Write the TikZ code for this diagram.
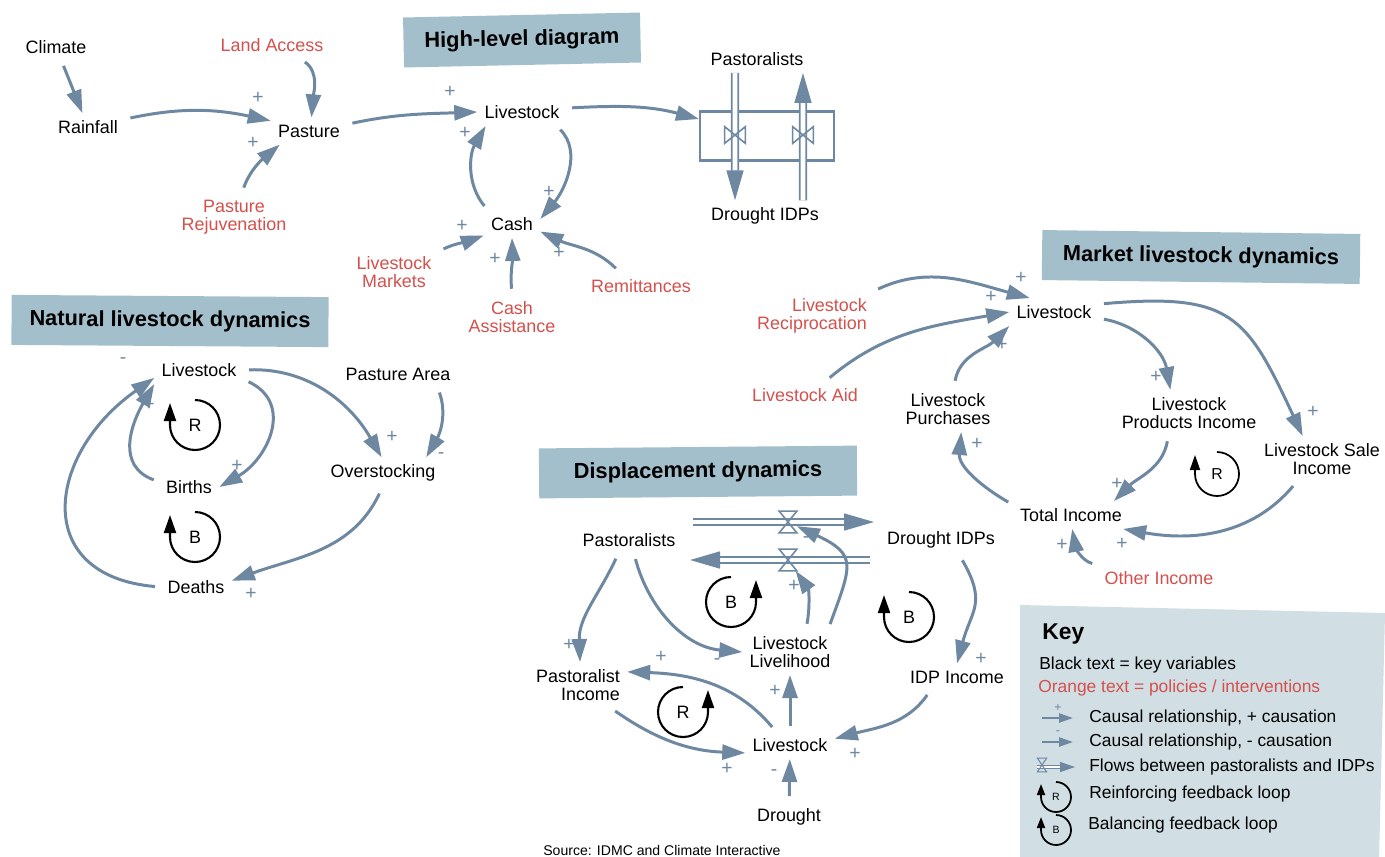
\documentclass[tikz,border=0pt]{standalone}
\usepackage{fontspec}
\setmainfont{Liberation Sans}
\usetikzlibrary{arrows.meta}
\definecolor{steel}{HTML}{6E88A1}
\definecolor{polred}{HTML}{D4504C}
\definecolor{titlefill}{HTML}{A3BFCB}
\definecolor{keyfill}{HTML}{D1DEE4}
\begin{document}
\begin{tikzpicture}[x=0.02cm, y=0.02cm,
    var/.style={font=\fontsize{10.2}{10.3}\selectfont, align=center, inner sep=4pt},
    pol/.style={var, text=polred},
    cl/.style={draw=steel, line width=1.7pt, shorten <=3pt, -{Triangle[length=0.46cm, width=0.3cm]}},
    sgn/.style={text=steel, font=\fontsize{11}{11}\selectfont, inner sep=0pt},
    title/.style={fill=titlefill, font=\bfseries\fontsize{12.4}{14}\selectfont, minimum height=1cm, inner sep=0pt},
    pipe/.style={draw=steel, line width=0.9pt, double=white, double distance=2.8pt},
    flowtip/.style={-{Triangle[length=0.6cm, width=0.34cm]}},
    hvalve/.style={inner sep=0pt, minimum width=0.4cm, minimum height=0.32cm},
    dvalve/.style={inner sep=0pt, minimum width=0.34cm, minimum height=0.42cm},
    valveline/.style={draw=steel, line width=0.9pt},
    fb/.style={draw=black, line width=1.2pt, -{Triangle[length=0.36cm, width=0.24cm]}},
    lbl/.style={font=\fontsize{10.2}{12}\selectfont, inner sep=0pt},
    keytxt/.style={font=\fontsize{9.9}{12}\selectfont, anchor=west, inner sep=0pt}
  ]
  \useasboundingbox (0,0) rectangle (1385,-856);
  \fill[white] (0,0) rectangle (1385,-856);

  % high-level diagram
  \node[title, rotate=1.2, minimum width=4.74cm] (htitle) at (522,-40) {High-level diagram};
  \node[var] (climate) at (56,-47) {Climate};
  \node[var] (rain) at (88,-127) {Rainfall};
  \node[pol] (land) at (272,-45) {Land Access};
  \node[var] (pasture) at (309,-131) {Pasture};
  \node[pol] (rejuv) at (234,-217) {Pasture\\Rejuvenation};
  \node[var] (hlive) at (522,-112) {Livestock};
  \node[var] (cash) at (512,-224) {Cash};
  \node[pol] (mkts) at (394,-272) {Livestock\\Markets};
  \node[pol] (assist) at (512,-317) {Cash\\Assistance};
  \node[pol] (remit) at (641,-286) {Remittances};
  \node[var] (hpast) at (757,-59) {Pastoralists};
  \node[var] (hidp) at (765,-216) {Drought IDPs};
  \node[draw=steel, line width=1.2pt, minimum width=2.68cm, minimum height=0.98cm, inner sep=0pt] (flowbox) at (767,-136) {};

  \draw[cl] (climate) -- (rain);
  \draw[cl] (rain.12) to[out=12, in=168] (pasture.165) node[sgn] at (258,-98) {+};
  \draw[cl] (land.-26) to[out=-35, in=85] (pasture.80);
  \draw[cl] (rejuv.72) to[out=70, in=220] (pasture.205) node[sgn] at (253,-143) {+};
  \draw[cl] (pasture.10) to[out=12, in=182] (hlive.west) node[sgn] at (450,-92) {+};
  \draw[cl] (hlive.5) to[out=3, in=165] (flowbox.166);
  \draw[cl] (cash.150) to[out=130, in=240] (hlive.201) node[sgn] at (465,-133) {+};
  \draw[cl] (hlive.-22) to[out=-45, in=50] (cash.10) node[sgn] at (549,-192) {+};
  \draw[cl] (mkts.25) to[out=25, in=200] (cash.202) node[sgn] at (462,-226) {+};
  \draw[cl] (assist.90) to[out=95, in=-88] (cash.south) node[sgn] at (495,-259) {+};
  \draw[cl] (remit.147) to[out=135, in=-25] (cash.-15) node[sgn] at (559,-253) {+};

  \draw[pipe, flowtip] ([xshift=-0.44cm]hpast.south) -- ([xshift=-0.6cm]hidp.north);
  \draw[pipe, flowtip] ([xshift=0.76cm]hidp.north) -- ([xshift=0.92cm]hpast.south);
  \node[hvalve] (hv1) at (735,-135) {};
  \node[hvalve] (hv2) at (803,-135) {};
  \draw[valveline] (hv1.north west) -- (hv1.south east) -- (hv1.north east) -- (hv1.south west) -- cycle;
  \draw[valveline] (hv2.north west) -- (hv2.south east) -- (hv2.north east) -- (hv2.south west) -- cycle;

  % natural livestock dynamics
  \node[title, rotate=-0.4, minimum width=6.34cm] (ntitle) at (170,-321) {Natural livestock dynamics};
  \node[var] (nlive) at (199,-370) {Livestock};
  \node[var] (parea) at (398,-374) {Pasture Area};
  \node[var] (births) at (189,-487) {Births};
  \node[var] (over) at (383,-473) {Overstocking};
  \node[var] (deaths) at (196,-587) {Deaths};

  \draw[cl] (deaths.west) to[out=175, in=215, looseness=1.6] (nlive.190) node[sgn] at (123,-361) {-};
  \draw[cl] (births.170) to[out=160, in=240, looseness=1.2] (nlive.south west) node[sgn] at (149,-405) {+};
  \draw[cl] (nlive.-12) to[out=-25, in=30, looseness=1.3] (births.east) node[sgn] at (237,-466) {+};
  \draw[cl] (nlive.east) to[out=2, in=120] (over.95) node[sgn] at (392,-437) {+};
  \draw[cl] (parea.-19) to[out=-70, in=60] (over.20) node[sgn] at (441,-456) {-};
  \draw[cl] (over.-95) to[out=-115, in=20] (deaths.10) node[sgn] at (251,-594) {+};

  \node[lbl] (nr) at (195,-425) {R};
  \draw[fb] (195,-400) arc[start angle=90, end angle=-180, radius=25] -- ++(0,22);
  \node[lbl] (nb) at (195,-537) {B};
  \draw[fb] (195,-512) arc[start angle=90, end angle=-180, radius=25] -- ++(0,22);

  % market livestock dynamics
  \node[title, rotate=-0.7, minimum width=6.36cm] (mtitle) at (1201,-257) {Market livestock dynamics};
  \node[var] (mlive) at (1054,-312) {Livestock};
  \node[pol, align=right] (recip) at (812,-316) {Livestock\\Reciprocation};
  \node[pol] (aid) at (805,-395) {Livestock Aid};
  \node[var] (purch) at (948,-409) {Livestock\\Purchases};
  \node[var] (prod) at (1189,-413) {Livestock\\Products Income};
  \node[var] (sale) at (1322,-459) {Livestock Sale\\Income};
  \node[var] (total) at (1071,-515) {Total Income};
  \node[pol] (other) at (1159,-578) {Other Income};

  \draw[cl] (recip.22) to[out=25, in=165] (mlive.150) node[sgn] at (1021,-278) {+};
  \draw[cl] (aid.34) to[out=40, in=190] (mlive.west) node[sgn] at (991,-297) {+};
  \draw[cl] (purch.75) to[out=80, in=225] (mlive.south west) node[sgn] at (1002,-345) {+};
  \draw[cl] (mlive.-8) to[out=-10, in=100] (prod.129) node[sgn] at (1156,-377) {+};
  \draw[cl] (mlive.10) to[out=5, in=115, looseness=1.4] (sale.130) node[sgn] at (1313,-412) {+};
  \draw[cl] (prod.228) to[out=-100, in=45] (total.18) node[sgn] at (1117,-484) {+};
  \draw[cl] (sale.222) to[out=-130, in=-10] (total.-15) node[sgn] at (1122,-544) {+};
  \draw[cl] (total.170) to[out=150, in=-95] (purch.-60) node[sgn] at (977,-444) {+};
  \draw[cl] (other.168) to[out=165, in=-80] (total.-85) node[sgn] at (1062,-545) {+};

  \node[lbl, font=\fontsize{9}{10}\selectfont] (mr) at (1217,-474) {R};
  \draw[fb, line width=1pt, -{Triangle[length=0.3cm, width=0.2cm]}] (1217,-452) arc[start angle=90, end angle=-180, radius=22] -- ++(0,19);

  % displacement dynamics
  \node[title, rotate=0.5, minimum width=6.36cm] (dtitle) at (698,-472) {Displacement dynamics};
  \node[var] (dpast) at (629,-540) {Pastoralists};
  \node[var] (didp) at (941,-540) {Drought IDPs};
  \node[var] (lvh) at (790,-652) {Livestock\\Livelihood};
  \node[var, align=right] (pinc) at (578,-685) {Pastoralist\\Income};
  \node[var] (iinc) at (957,-677) {IDP Income};
  \node[var] (dlive) at (790,-745) {Livestock};
  \node[var] (drought) at (789,-817) {Drought};

  \coordinate (tp0) at (693,-522);
  \coordinate (tp1) at (874,-522);
  \coordinate (bp0) at (870,-560);
  \coordinate (bp1) at (690,-560);
  \draw[pipe, flowtip] (tp0) -- (tp1);
  \draw[pipe, flowtip] (bp0) -- (bp1);
  \node[dvalve] (tv) at (788,-522) {};
  \node[dvalve] (bv) at (788,-560) {};
  \draw[valveline] (tv.north west) -- (tv.north east) -- (tv.south west) -- (tv.south east) -- cycle;
  \draw[valveline] (bv.north west) -- (bv.north east) -- (bv.south west) -- (bv.south east) -- cycle;

  \draw[cl] (dpast.-128) to[out=-115, in=92] (pinc.85) node[sgn] at (569,-645) {+};
  \draw[cl] (dpast.-70) to[out=-75, in=175] (lvh.west) node[sgn] at (717,-662) {-};
  \draw[cl] (lvh.31) to[out=70, in=-25, looseness=1.6] (tv) node[sgn] at (806,-540) {-};
  \draw[cl] (lvh.55) to[out=80, in=-55] (bv) node[sgn] at (794,-586) {+};
  \draw[cl] (didp.-40) to[out=-60, in=75, looseness=1.3] (iinc.north) node[sgn] at (981,-659) {+};
  \draw[cl] (iinc.207) to[out=-125, in=15] (dlive.8) node[sgn] at (855,-754) {+};
  \draw[cl] (pinc.-35) to[out=-35, in=178] (dlive.190) node[sgn] at (727,-769) {+};
  \draw[cl] (dlive.136) to[out=130, in=-2] (pinc.15) node[sgn] at (661,-657) {+};
  \draw[cl] (dlive) -- (lvh) node[sgn] at (775,-691) {+};
  \draw[cl] (drought) -- (dlive) node[sgn] at (774,-773) {-};

  \node[lbl] (db1) at (731,-602) {B};
  \draw[fb] (731,-577) arc[start angle=90, end angle=360, radius=25] -- ++(0,22);
  \node[lbl] (db2) at (909,-617) {B};
  \draw[fb] (909,-592) arc[start angle=90, end angle=-180, radius=25] -- ++(0,22);
  \node[lbl] (dr) at (683,-712) {R};
  \draw[fb] (683,-687) arc[start angle=90, end angle=360, radius=25] -- ++(0,22);

  \node[font=\fontsize{8}{9}\selectfont, anchor=base west, inner sep=0pt] (src) at (543,-855) {Source: IDMC and Climate Interactive};

  % key
  \fill[keyfill] (1020,-605) -- (1385,-613) -- (1379,-860) -- (1020,-860) -- cycle;
  \node[font=\bfseries\fontsize{13}{15}\selectfont, anchor=west, inner sep=0pt] (keyhd) at (1042,-634) {Key};
  \node[keytxt] (k1) at (1039,-665) {Black text = key variables};
  \node[keytxt, text=polred] (k2) at (1038,-688) {Orange text = policies / interventions};
  \node[keytxt] (k3) at (1089,-718) {Causal relationship, + causation};
  \node[keytxt] (k4) at (1089,-742) {Causal relationship, - causation};
  \node[keytxt] (k5) at (1089,-767) {Flows between pastoralists and IDPs};
  \node[keytxt] (k6) at (1089,-794) {Reinforcing feedback loop};
  \node[keytxt] (k7) at (1088,-825) {Balancing feedback loop};

  \draw[cl, line width=1.3pt, -{Triangle[length=0.28cm, width=0.18cm]}] ([xshift=-1.04cm]k3.west) -- ([xshift=-0.32cm]k3.west) node[sgn, font=\fontsize{7}{7}\selectfont] at (1058,-708) {+};
  \draw[cl, line width=1.3pt, -{Triangle[length=0.28cm, width=0.18cm]}] ([xshift=-1.04cm]k4.west) -- ([xshift=-0.32cm]k4.west) node[sgn, font=\fontsize{7}{7}\selectfont] at (1058,-733) {-};
  \draw[pipe, line width=0.6pt, double distance=1.6pt, -{Triangle[length=0.3cm, width=0.2cm]}] ([xshift=-1.04cm]k5.west) -- ([xshift=-0.28cm]k5.west);
  \node[inner sep=0pt, minimum width=0.17cm, minimum height=0.26cm] (kv) at (1042,-765) {};
  \draw[valveline, line width=0.6pt] (kv.north west) -- (kv.north east) -- (kv.south west) -- (kv.south east) -- cycle;
  \node[lbl, font=\fontsize{6}{7}\selectfont] (kr) at (1056,-797) {R};
  \draw[fb, line width=1pt, -{Triangle[length=0.22cm, width=0.16cm]}] (1056,-782) arc[start angle=90, end angle=-180, radius=15] -- ++(0,13);
  \node[lbl, font=\fontsize{6}{7}\selectfont] (kb) at (1056,-830) {B};
  \draw[fb, line width=1pt, -{Triangle[length=0.22cm, width=0.16cm]}] (1056,-815) arc[start angle=90, end angle=-180, radius=15] -- ++(0,13);
\end{tikzpicture}
\end{document}
